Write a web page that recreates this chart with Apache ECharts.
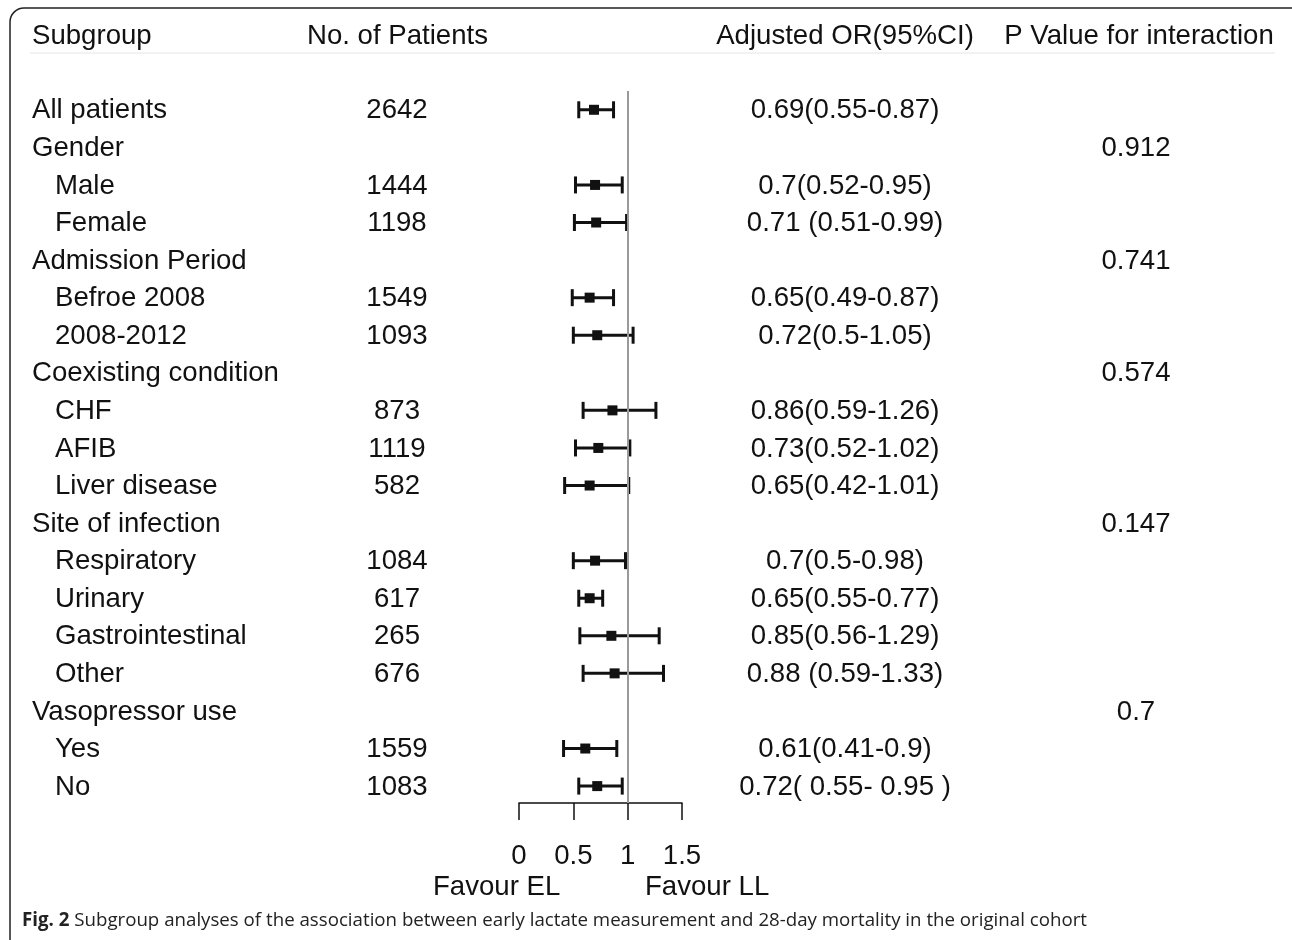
<!DOCTYPE html>
<html>
<head>
<meta charset="utf-8">
<script src="https://cdn.jsdelivr.net/npm/echarts@6/dist/echarts.min.js"></script>
<style>html,body{margin:0;padding:0;background:#fff}#c{width:1292px;height:940px}</style>
</head>
<body>
<div id="c"></div>
<script>
// ---- data ----
const headers = ['Subgroup', 'No. of Patients', 'Adjusted OR(95%CI)', 'P Value for interaction'];
const labels = ['All patients','Gender','Male','Female','Admission Period','Befroe 2008','2008-2012','Coexisting condition','CHF','AFIB','Liver disease','Site of infection','Respiratory','Urinary','Gastrointestinal','Other','Vasopressor use','Yes','No'];
const indent = [0,0,1,1,0,1,1,0,1,1,1,0,1,1,1,1,0,1,1];
const patients = ['2642','','1444','1198','','1549','1093','','873','1119','582','','1084','617','265','676','','1559','1083'];
const orValues = [0.69,null,0.70,0.71,null,0.65,0.72,null,0.86,0.73,0.65,null,0.70,0.65,0.85,0.88,null,0.61,0.72];
const ciLow = [0.55,null,0.52,0.51,null,0.49,0.50,null,0.59,0.52,0.42,null,0.50,0.55,0.56,0.59,null,0.41,0.55];
const ciHigh = [0.87,null,0.95,0.99,null,0.87,1.05,null,1.26,1.02,1.01,null,0.98,0.77,1.29,1.33,null,0.90,0.95];
const orText = ['0.69(0.55-0.87)','','0.7(0.52-0.95)','0.71 (0.51-0.99)','','0.65(0.49-0.87)','0.72(0.5-1.05)','','0.86(0.59-1.26)','0.73(0.52-1.02)','0.65(0.42-1.01)','','0.7(0.5-0.98)','0.65(0.55-0.77)','0.85(0.56-1.29)','0.88 (0.59-1.33)','','0.61(0.41-0.9)','0.72( 0.55- 0.95 )'];
const pValues = ['','0.912','','','0.741','','','0.574','','','','0.147','','','','','0.7','',''];
const xTicks = [0, 0.5, 1, 1.5];
const refValue = 1;
const favourLabels = ['Favour EL', 'Favour LL'];
const captionBold = 'Fig. 2';
const captionText = ' Subgroup analyses of the association between early lactate measurement and 28-day mortality in the original cohort';

// ---- build ----
const FONT = '"Liberation Sans", Arial, sans-serif';
const FS = 27.6;
const COLOR = '#111';

const ciData = [];
orValues.forEach((v, i) => { if (v !== null) ciData.push([v, ciLow[i], ciHigh[i], i]); });
const rowData = labels.map((l, i) => [0, i]);

const chart = echarts.init(document.getElementById('c'));
chart.setOption({
  animation: false,
  backgroundColor: '#fff',
  textStyle: { fontFamily: FONT },
  grid: { left: 519, right: 1292 - 682, top: 91, bottom: 940 - 803, containLabel: false },
  xAxis: {
    type: 'value', min: 0, max: 1.5, interval: 0.5,
    splitLine: { show: false },
    axisLine: { show: true, onZero: false, lineStyle: { color: '#111', width: 1.5 } },
    axisTick: { show: true, length: 17, lineStyle: { color: '#111', width: 1.5 } },
    axisLabel: { margin: 39, fontSize: FS, color: COLOR, fontFamily: FONT,
      formatter: v => (xTicks.indexOf(v) >= 0 ? String(v) : '') }
  },
  yAxis: {
    type: 'value', inverse: true, min: -0.5, max: 18.45,
    show: false
  },
  graphic: [
    { type: 'rect', shape: { x: 10, y: 8, width: 1300, height: 945, r: 14 },
      style: { fill: 'none', stroke: '#222', lineWidth: 1.5 }, silent: true, z: 0 },
    { type: 'line', shape: { x1: 30, y1: 53, x2: 1275, y2: 53 },
      style: { stroke: '#eeeeee', lineWidth: 1.5 }, silent: true },
    { type: 'text', left: 433, top: 873, style: { text: favourLabels[0], fontSize: FS, fontFamily: FONT, fill: COLOR } },
    { type: 'text', left: 645, top: 873, style: { text: favourLabels[1], fontSize: FS, fontFamily: FONT, fill: COLOR } },
    { type: 'text', left: 22, top: 911, style: {
        text: '{b|' + captionBold + '}{r|' + captionText + '}',
        rich: {
          b: { fontFamily: 'Open Sans', fontWeight: 'bold', fontSize: 18.7, fill: '#222' },
          r: { fontFamily: 'Open Sans', fontSize: 18.7, fill: '#222' }
        }
      } }
  ],
  series: [
    {
      type: 'custom',
      name: 'table',
      data: rowData,
      encode: { x: 0, y: 1 },
      clip: false,
      silent: true,
      renderItem: function (params, api) {
        const i = params.dataIndex;
        const y = api.coord([0, i])[1] + 1;
        const children = [];
        const mk = (txt, x, yy, align) => ({ type: 'text', style: { text: txt, x: x, y: yy, align: align, verticalAlign: 'middle', fontSize: FS, fontFamily: FONT, fill: COLOR } });
        children.push(mk(labels[i], indent[i] ? 55 : 32, y, 'left'));
        if (patients[i]) children.push(mk(patients[i], 397, y, 'center'));
        if (orText[i]) children.push(mk(orText[i], 845, y, 'center'));
        if (pValues[i]) children.push(mk(pValues[i], 1136, y, 'center'));
        if (i === 0) {
          const hy = api.coord([0, -1.98])[1] + 1;
          children.push(mk(headers[0], 32, hy, 'left'));
          children.push(mk(headers[1], 307, hy, 'left'));
          children.push(mk(headers[2], 845, hy, 'center'));
          children.push(mk(headers[3], 1139, hy, 'center'));
        }
        return { type: 'group', children: children };
      },
      z: 3
    },
    {
      type: 'custom',
      name: 'CI',
      data: ciData,
      encode: { x: [0, 1, 2], y: 3 },
      clip: false,
      renderItem: function (params, api) {
        const p = api.coord([api.value(0), api.value(3)]);
        const lo = api.coord([api.value(1), api.value(3)]);
        const hi = api.coord([api.value(2), api.value(3)]);
        const st = { stroke: '#111', lineWidth: 3, fill: 'none' };
        const ch = 8.5;
        return { type: 'group', children: [
          { type: 'line', shape: { x1: lo[0], y1: p[1], x2: hi[0], y2: p[1] }, style: st },
          { type: 'line', shape: { x1: lo[0], y1: p[1] - ch, x2: lo[0], y2: p[1] + ch }, style: st },
          { type: 'line', shape: { x1: hi[0], y1: p[1] - ch, x2: hi[0], y2: p[1] + ch }, style: st },
          { type: 'rect', shape: { x: p[0] - 5, y: p[1] - 5, width: 10, height: 10 }, style: { fill: '#111' } }
        ] };
      },
      markLine: {
        silent: true, symbol: 'none', label: { show: false },
        lineStyle: { color: '#9a9a9a', width: 2, type: 'solid' },
        data: [{ xAxis: refValue }]
      },
      z: 4
    }
  ]
});
</script>
</body>
</html>
